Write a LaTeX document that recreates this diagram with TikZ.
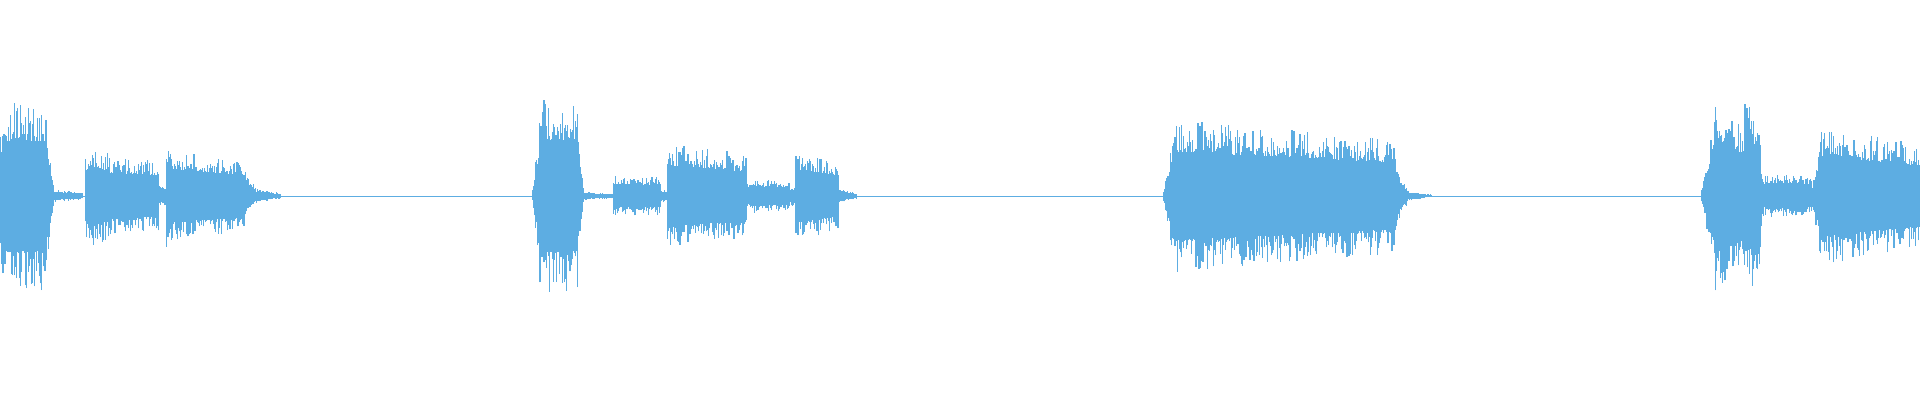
\documentclass[tikz,border=0pt]{standalone}
\usepackage{tikz}

\definecolor{wavecol}{HTML}{5DADE2}
\tikzset{
  wave/.style={draw=wavecol, line width=0.35pt},
  floor/.style={draw=wavecol, line width=0.2pt}
}

% one burst of samples, envelope going linearly from #3 to #4
\newcommand{\burst}[4]{%
  \pgfmathsetmacro{\xstep}{#1+0.8}
  \foreach \xx in {#1,\xstep,...,#2}{
    \pgfmathsetmacro{\hh}{#3+(#4-#3)*(\xx-#1)/(#2-#1)}
    \pgfmathsetmacro{\up}{\hh*(0.62+0.45*rnd^2)}
    \pgfmathsetmacro{\dn}{\hh*(0.62+0.45*rnd^2)}
    \draw[wave] (\xx,-\dn) -- (\xx,\up);
  }}

\begin{document}
\begin{tikzpicture}[x=0.012245cm, y=0.012245cm]
    \pgfmathsetseed{7}
    \useasboundingbox[fill=white] (0,-166.6) rectangle (1568,160);

    % quiet floor
    \draw[floor] (0,0) -- (1568,0);

    % first phrase
    \burst{0}{4}{50}{68}
    \burst{4}{38}{72}{72}
    \burst{38}{44}{60}{10}
    \burst{44}{68}{5}{3}
    \burst{70}{74}{30}{42}
    \burst{74}{90}{40}{32}
    \burst{90}{130}{30}{27}
    \burst{130}{135}{8}{8}
    \burst{136}{140}{40}{40}
    \burst{140}{200}{35}{27}
    \burst{200}{210}{20}{5}
    \burst{210}{230}{6}{2}

    % second phrase
    \burst{435}{441}{5}{60}
    \burst{441}{472}{74}{72}
    \burst{472}{477}{50}{5}
    \burst{477}{501}{3}{2}
    \burst{501}{540}{15}{15}
    \burst{540}{545}{5}{5}
    \burst{545}{610}{40}{32}
    \burst{610}{614}{10}{10}
    \burst{614}{645}{13}{11}
    \burst{645}{650}{8}{8}
    \burst{650}{685}{35}{27}
    \burst{685}{700}{6}{2}

    % third phrase
    \burst{950}{960}{5}{57}
    \burst{960}{1140}{58}{44}
    \burst{1140}{1150}{25}{5}
    \burst{1150}{1170}{4}{1}

    % fourth phrase
    \burst{1390}{1400}{5}{60}
    \burst{1400}{1412}{74}{68}
    \burst{1412}{1425}{58}{58}
    \burst{1425}{1438}{72}{66}
    \burst{1438}{1442}{30}{10}
    \burst{1442}{1480}{17}{15}
    \burst{1480}{1486}{10}{42}
    \burst{1486}{1568}{53}{40}
\end{tikzpicture}
\end{document}
